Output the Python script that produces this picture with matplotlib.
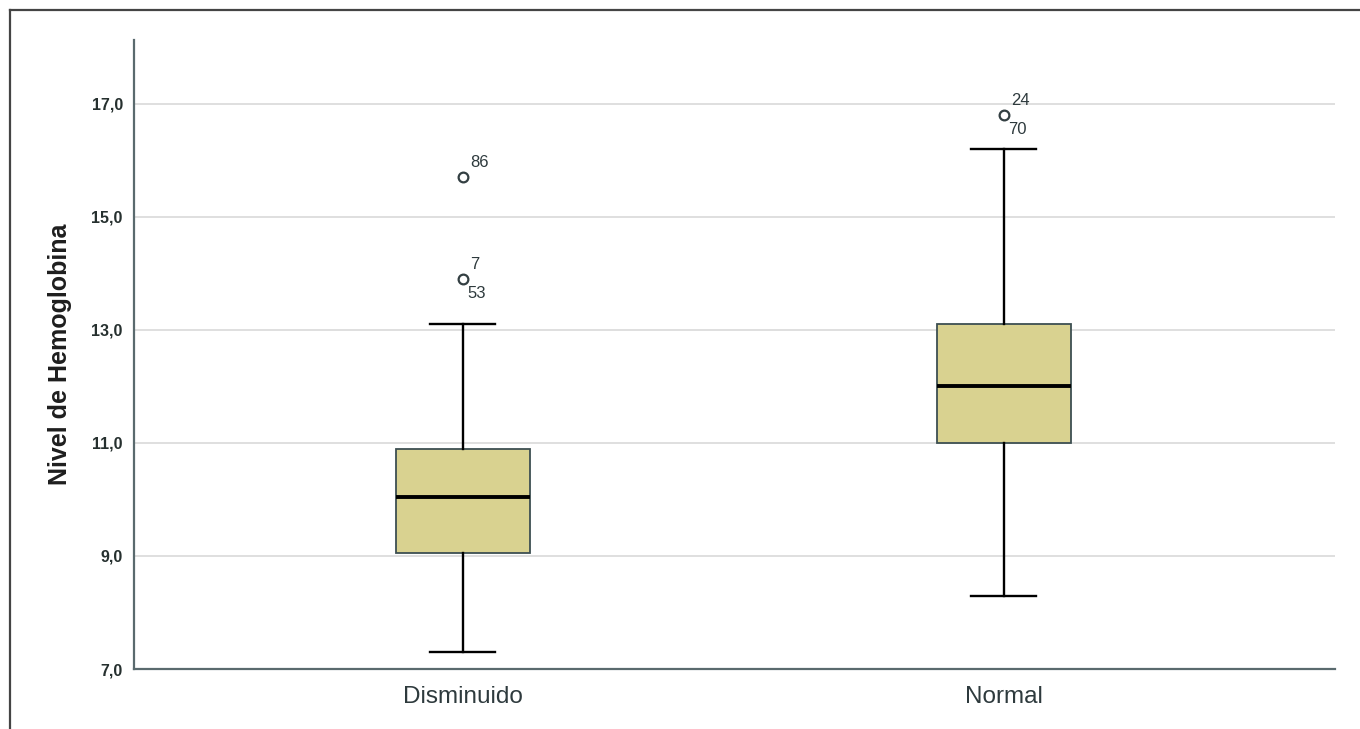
import matplotlib.pyplot as plt
from matplotlib.lines import Line2D

plt.rcParams['font.family'] = ['Liberation Sans', 'DejaVu Sans']

# five-number summaries per group
groups = ['Disminuido', 'Normal']
whislo = [7.3, 8.3]
q1 = [9.05, 11.0]
med = [10.05, 12.0]
q3 = [10.9, 13.1]
whishi = [13.1, 16.2]
fliers = [[15.7, 13.9], [16.8]]
# case labels next to the outliers: (group, value, label, side)
flier_ids = [(0, 15.7, '86', 'up'), (0, 13.9, '7', 'up'), (0, 13.9, '53', 'down'),
             (1, 16.8, '24', 'up'), (1, 16.8, '70', 'down')]
yticks = [7.0, 9.0, 11.0, 13.0, 15.0, 17.0]

stats = []
for i, g in enumerate(groups):
    stats.append(dict(label=g, whislo=whislo[i], q1=q1[i], med=med[i],
                      q3=q3[i], whishi=whishi[i], fliers=fliers[i]))

fig = plt.figure(figsize=(13.6, 7.29), dpi=100)
ax = fig.add_axes([0.0985, 0.0823, 0.883, 0.8627])

pos = [1, 2]
ax.bxp(stats, positions=pos, widths=0.248, patch_artist=True,
       boxprops=dict(facecolor='#d9d290', edgecolor='#3d4f52', linewidth=1.3),
       medianprops=dict(color='black', linewidth=2.8),
       whiskerprops=dict(color='black', linewidth=1.7),
       capprops=dict(color='black', linewidth=1.7),
       capwidths=0.12,
       flierprops=dict(marker='o', markersize=7, markerfacecolor='white',
                       markeredgecolor='#333f42', markeredgewidth=1.6))

for g, v, lab, side in flier_ids:
    if side == 'up':
        ax.annotate(lab, (pos[g], v), xytext=(5, 5), textcoords='offset points',
                    fontsize=12, color='#2e3a3d', ha='left', va='bottom')
    else:
        ax.annotate(lab, (pos[g], v), xytext=(3, -5), textcoords='offset points',
                    fontsize=12, color='#2e3a3d', ha='left', va='top')

ax.set_xlim(0.392, 2.612)
ax.set_ylim(7.0, 18.13)
ax.set_yticks(yticks)
ax.set_yticklabels([f'{t:.1f}'.replace('.', ',') for t in yticks])
ax.grid(axis='y', color='#dcdcdc', linewidth=1.3)
ax.set_axisbelow(True)

for s in ['top', 'right']:
    ax.spines[s].set_visible(False)
for s in ['left', 'bottom']:
    ax.spines[s].set_color('#5a6a6e')
    ax.spines[s].set_linewidth(1.6)

ax.tick_params(axis='y', length=0, pad=8, labelsize=11.5, labelcolor='#26302f')
ax.tick_params(axis='x', length=0, pad=12, labelsize=17.5, labelcolor='#2e3a3d')
for t in ax.get_yticklabels():
    t.set_fontweight('bold')
ax.set_ylabel('Nivel de Hemoglobina', fontsize=18, fontweight='bold',
              color='#1e1e1e', labelpad=14)

# outer frame (only left and top edges show)
fig.add_artist(Line2D([10 / 1360, 10 / 1360], [0, 1 - 10 / 729],
                      color='#444444', linewidth=1.6, transform=fig.transFigure))
fig.add_artist(Line2D([10 / 1360, 1], [1 - 10 / 729, 1 - 10 / 729],
                      color='#444444', linewidth=1.6, transform=fig.transFigure))

fig.savefig('out.png', dpi=100)
